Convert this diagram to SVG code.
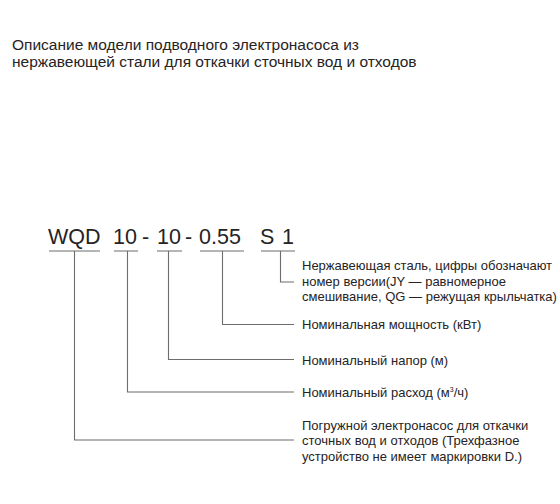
<svg xmlns="http://www.w3.org/2000/svg" width="560" height="504" viewBox="0 0 560 504">
<style>
text{font-family:"Liberation Sans",Arial,sans-serif;fill:#262324}
.title{font-size:15.5px}
.code{font-size:21.5px}
.lbl{font-size:13px}
.ln{stroke:#6d6d6d;stroke-width:1.1;fill:none}
</style>
<rect width="560" height="504" fill="#ffffff"/>
<g id="title">
<text class="title" x="12" y="49.5">Описание модели подводного электронасоса из</text>
<text class="title" x="12" y="66.5">нержавеющей стали для откачки сточных вод и отходов</text>
</g>
<g id="code">
<text class="code" x="48" y="244">WQD</text>
<text class="code" x="113" y="244">10</text>
<text class="code" x="142" y="244">-</text>
<text class="code" x="157" y="244">10</text>
<text class="code" x="185" y="244">-</text>
<text class="code" x="199" y="244">0.55</text>
<text class="code" x="260" y="244">S</text>
<text class="code" x="282" y="244">1</text>
</g>
<g id="connectors">
<path class="ln" d="M49 251H100M114 251H138M157 251H182M200 251H244M261 251H295"/>
<path class="ln" d="M74.5 251V440H294"/>
<path class="ln" d="M127.5 251V392H294"/>
<path class="ln" d="M168.5 251V359.5H294"/>
<path class="ln" d="M222.5 251V324.5H294"/>
<path class="ln" d="M280.5 251V282H294"/>
</g>
<g id="label-s1">
<text class="lbl" x="302" y="270">Нержавеющая сталь, цифры обозначают</text>
<text class="lbl" x="302" y="285.5">номер версии(JY — равномерное</text>
<text class="lbl" x="302" y="301">смешивание, QG — режущая крыльчатка)</text>
</g>
<g id="label-power">
<text class="lbl" x="302" y="328.5">Номинальная мощность (кВт)</text>
</g>
<g id="label-head">
<text class="lbl" x="302" y="364.5">Номинальный напор (м)</text>
</g>
<g id="label-flow">
<text class="lbl" x="302" y="397">Номинальный расход (м<tspan font-size="7" dy="-5">3</tspan><tspan dy="5">/ч)</tspan></text>
</g>
<g id="label-type">
<text class="lbl" x="302" y="429.5">Погружной электронасос для откачки</text>
<text class="lbl" x="302" y="445">сточных вод и отходов (Трехфазное</text>
<text class="lbl" x="302" y="460.5">устройство не имеет маркировки D.)</text>
</g>
</svg>
